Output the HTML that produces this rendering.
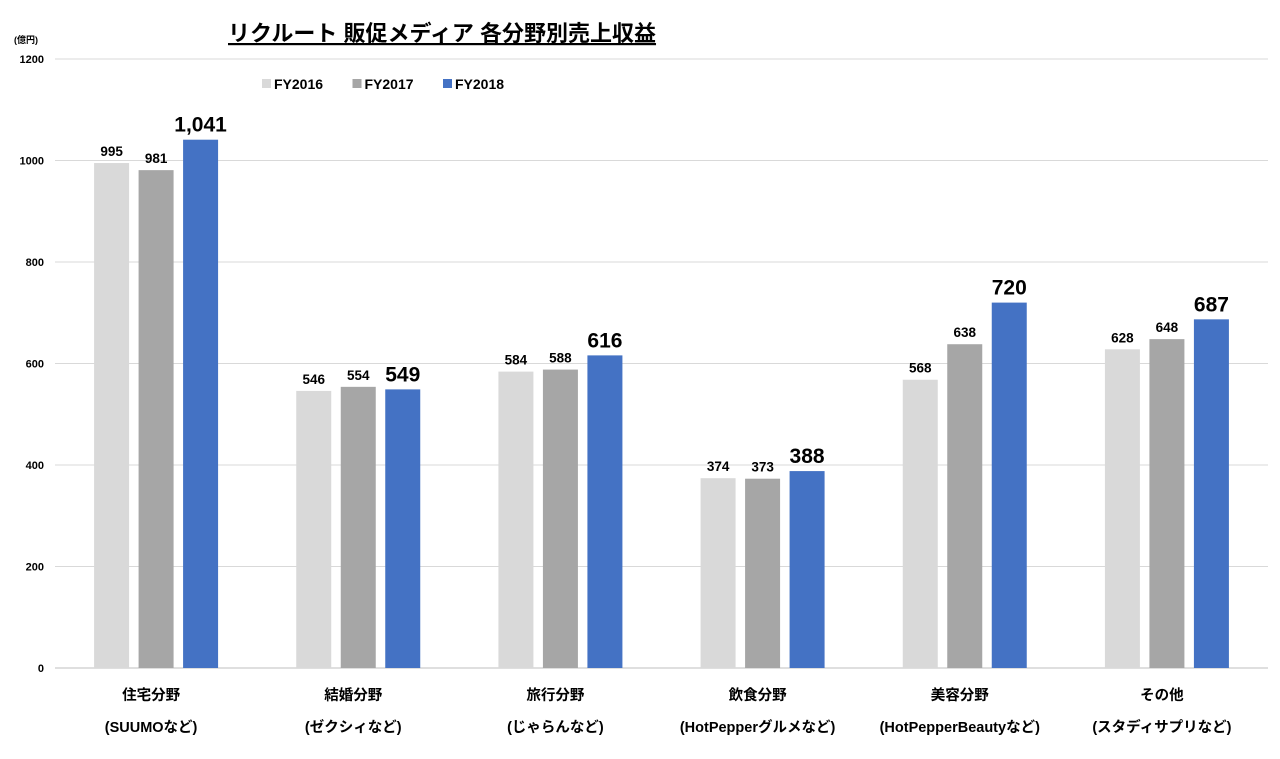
<!DOCTYPE html>
<html><head><meta charset="utf-8"><style>
body{margin:0;background:#fff;}
svg text{font-family:"Liberation Sans","Noto Sans CJK JP",sans-serif;font-weight:bold;}
</style></head><body>
<svg id="c" width="1280" height="754" xmlns="http://www.w3.org/2000/svg">
<text x="228" y="41" font-size="22" text-decoration="underline">リクルート 販促メディア 各分野別売上収益</text>
<text x="14" y="43" font-size="9">(億円)</text>
<g id="grid"></g><g id="bars"></g><g id="legend"></g>
</svg>
<script>
const categories=["住宅分野","結婚分野","旅行分野","飲食分野","美容分野","その他"];
const subLabels=["(SUUMOなど)","(ゼクシィなど)","(じゃらんなど)","(HotPepperグルメなど)","(HotPepperBeautyなど)","(スタディサプリなど)"];
const fy2016=[995,546,584,374,568,628];
const fy2017=[981,554,588,373,638,648];
const fy2018=[1041,549,616,388,720,687];
const valueLabels2018=["1,041","549","616","388","720","687"];
const yTicks=[0,200,400,600,800,1000,1200];
const seriesNames=["FY2016","FY2017","FY2018"];
const colors=["#d9d9d9","#a6a6a6","#4472c4"];
const NS="http://www.w3.org/2000/svg";
const x0=55,x1=1268,y0=668,y1=59;
const y=v=>y0-(v/1200)*(y0-y1);
const band=(x1-x0)/categories.length;
function mk(t,a,p,txt){const e=document.createElementNS(NS,t);for(const k in a)e.setAttribute(k,a[k]);if(txt!=null)e.textContent=txt;p.appendChild(e);return e;}
const grid=document.getElementById('grid'),bars=document.getElementById('bars'),leg=document.getElementById('legend');
yTicks.forEach(t=>{
 const l=mk('line',{x1:x0,x2:x1,y1:y(t),y2:y(t),stroke:t===0?'#bfbfbf':'#d9d9d9','stroke-width':1},grid);
 
 
 const tx=mk('text',{x:44,y:y(t)+4,'font-size':11,'text-anchor':'end'},grid,String(t));
 
 
});
const series=[fy2016,fy2017,fy2018];
categories.forEach((c,i)=>{
 const cx=x0+band*(i+0.5);
 series.forEach((s,j)=>{
  const bx=cx-62+j*44.5;
  const r=mk('rect',{x:bx,y:y(s[i]),width:35,height:y0-y(s[i]),fill:colors[j]},bars);
  
  
  const big=j===2;
  const t=mk('text',{x:bx+17.5,y:y(s[i])-(big?8:7),'font-size':big?21:13.5,'text-anchor':'middle'},bars,big?valueLabels2018[i]:String(s[i]));
  
  
 });
 const a=mk('text',{x:cx-5,y:700,'font-size':14.5,'text-anchor':'middle'},bars,c);
 
 
 const b=mk('text',{x:cx-5,y:732,'font-size':14.5,'text-anchor':'middle'},bars,subLabels[i]);
 
 
});
seriesNames.forEach((n,j)=>{
 const lx=262+j*90.5;
 const g=mk('g',{},leg);
 
 
 mk('rect',{x:lx,y:79,width:9,height:9,fill:colors[j]},g);
 mk('text',{x:lx+12,y:89,'font-size':14},g,n);
});
</script>
</body></html>
